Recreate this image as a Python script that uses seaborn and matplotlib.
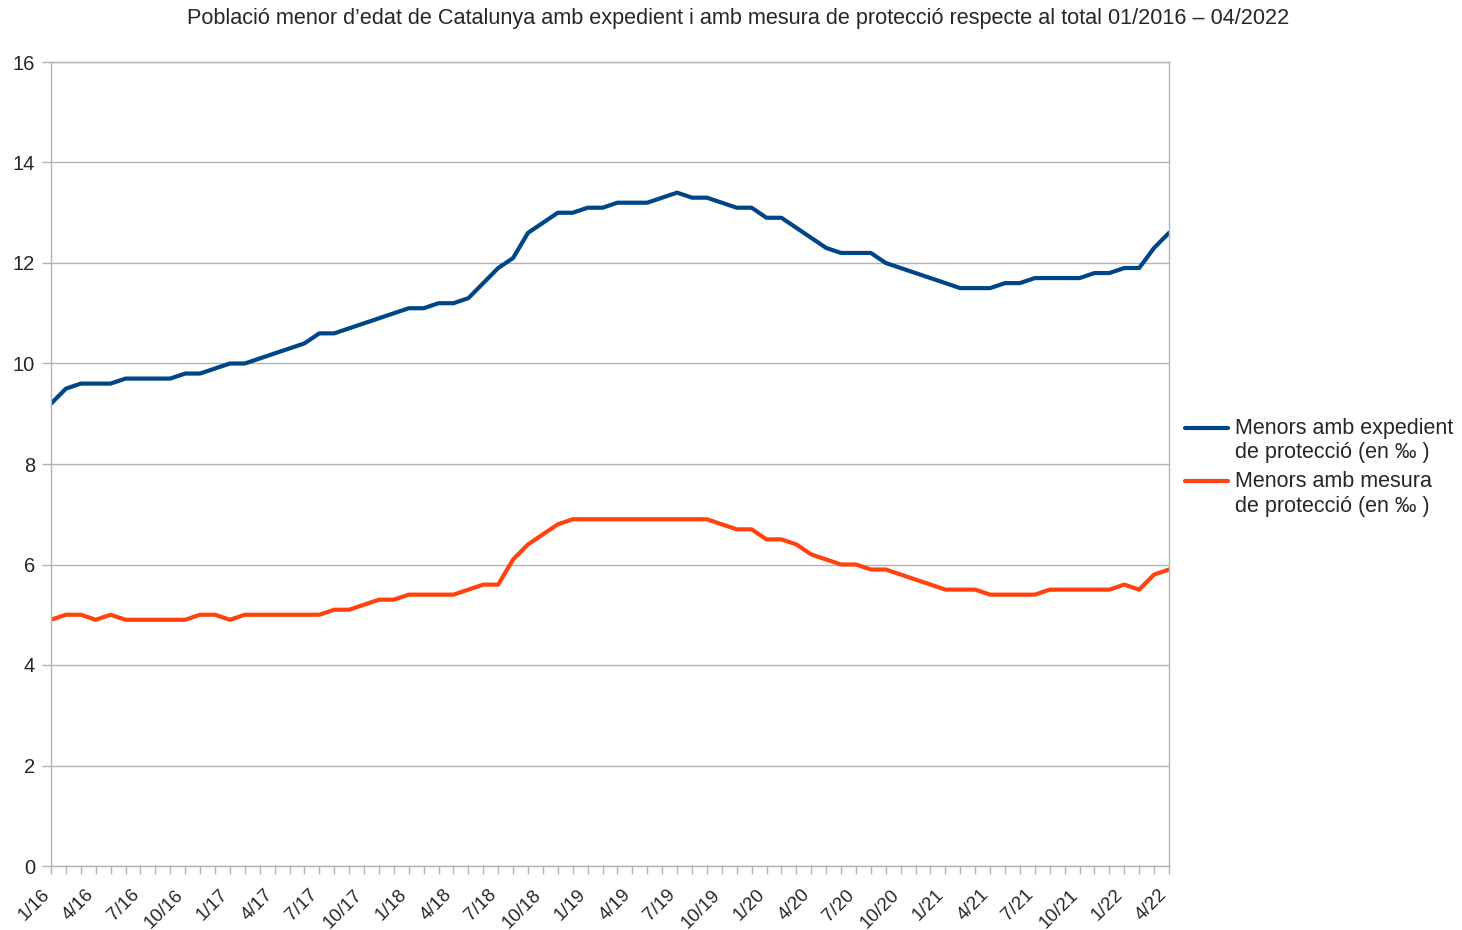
import matplotlib
matplotlib.use("Agg")
import matplotlib.pyplot as plt
import seaborn as sns
import pandas as pd
import numpy as np
from matplotlib.legend_handler import HandlerLine2D
from matplotlib.transforms import ScaledTranslation

# Monthly data Jan 2016 .. Apr 2022 (76 months)
expedient = [9.2, 9.5, 9.6, 9.6, 9.6, 9.7, 9.7, 9.7, 9.7, 9.8, 9.8, 9.9,
             10.0, 10.0, 10.1, 10.2, 10.3, 10.4, 10.6, 10.6, 10.7, 10.8, 10.9, 11.0,
             11.1, 11.1, 11.2, 11.2, 11.3, 11.6, 11.9, 12.1, 12.6, 12.8, 13.0, 13.0,
             13.1, 13.1, 13.2, 13.2, 13.2, 13.3, 13.4, 13.3, 13.3, 13.2, 13.1, 13.1,
             12.9, 12.9, 12.7, 12.5, 12.3, 12.2, 12.2, 12.2, 12.0, 11.9, 11.8, 11.7,
             11.6, 11.5, 11.5, 11.5, 11.6, 11.6, 11.7, 11.7, 11.7, 11.7, 11.8, 11.8,
             11.9, 11.9, 12.3, 12.6]
mesura = [4.9, 5.0, 5.0, 4.9, 5.0, 4.9, 4.9, 4.9, 4.9, 4.9, 5.0, 5.0,
          4.9, 5.0, 5.0, 5.0, 5.0, 5.0, 5.0, 5.1, 5.1, 5.2, 5.3, 5.3,
          5.4, 5.4, 5.4, 5.4, 5.5, 5.6, 5.6, 6.1, 6.4, 6.6, 6.8, 6.9,
          6.9, 6.9, 6.9, 6.9, 6.9, 6.9, 6.9, 6.9, 6.9, 6.8, 6.7, 6.7,
          6.5, 6.5, 6.4, 6.2, 6.1, 6.0, 6.0, 5.9, 5.9, 5.8, 5.7, 5.6,
          5.5, 5.5, 5.5, 5.4, 5.4, 5.4, 5.4, 5.5, 5.5, 5.5, 5.5, 5.5,
          5.6, 5.5, 5.8, 5.9]
tick_labels = ["1/16", "4/16", "7/16", "10/16", "1/17", "4/17", "7/17", "10/17",
               "1/18", "4/18", "7/18", "10/18", "1/19", "4/19", "7/19", "10/19",
               "1/20", "4/20", "7/20", "10/20", "1/21", "4/21", "7/21", "10/21",
               "1/22", "4/22"]
series_names = ["Menors amb expedient\nde protecció (en ‰ )",
                "Menors amb mesura\nde protecció (en ‰ )"]
colors = ["#004586", "#ff420e"]
title = "Població menor d’edat de Catalunya amb expedient i amb mesura de protecció respecte al total 01/2016 – 04/2022"

sns.set_theme(style="white")
plt.rcParams['font.family'] = ['Liberation Sans', 'DejaVu Sans']

LEG_FS = 15.5


class TopLineHandler(HandlerLine2D):
    """Place the legend line next to the first line of a two-line label."""
    def create_artists(self, legend, orig_handle, xdescent, ydescent,
                       width, height, fontsize, trans):
        artists = super().create_artists(legend, orig_handle, xdescent, ydescent,
                                          width, height, fontsize, trans)
        for a in artists:
            yd = np.asarray(a.get_ydata(), dtype=float)
            a.set_ydata(yd + 0.62 * fontsize)
        return artists


n = len(expedient)
df = pd.DataFrame({
    "month": list(range(n)) * 2,
    "value": expedient + mesura,
    "series": [series_names[0]] * n + [series_names[1]] * n,
})

fig = plt.figure(figsize=(14.62, 9.30), dpi=100)
ax = fig.add_axes([51/1462, 1 - 866/930, (1169 - 51)/1462, (866 - 62)/930])

sns.lineplot(data=df, x="month", y="value", hue="series", palette=colors,
             linewidth=3.0, ax=ax, legend=True)

ax.set_xlim(0, n - 1)
ax.set_ylim(0, 16)
ax.set_yticks(np.arange(0, 17, 2))
ax.set_yticklabels([str(v) for v in range(0, 17, 2)], fontsize=14.5)
ax.set_xticks(range(0, n, 3))
ax.set_xticklabels(tick_labels, rotation=45, ha="right", va="center",
                   rotation_mode="anchor", fontsize=13.5)
ax.set_xticks(range(n), minor=True)
ax.tick_params(axis="x", which="both", direction="out", length=6, color="#b3b3b3",
               width=1, bottom=True, pad=13)
ax.tick_params(axis="y", which="major", direction="out", length=6.5, color="#b3b3b3",
               width=1, left=True, pad=5)
for lbl in ax.get_xticklabels():
    lbl.set_transform(lbl.get_transform() + ScaledTranslation(-3/72, 0, fig.dpi_scale_trans))
ax.grid(axis="y", color="#b3b3b3", linewidth=1)
ax.set_axisbelow(True)
for s in ["left", "right", "bottom", "top"]:
    ax.spines[s].set_color("#b3b3b3")
    ax.spines[s].set_linewidth(1)
ax.set_xlabel("")
ax.set_ylabel("")

handles, labels = ax.get_legend_handles_labels()
for h in handles:
    h.set_linewidth(3.0)
ax.legend(handles, labels, loc="center left", bbox_to_anchor=(1 + 16/1118, 0.496),
          frameon=False, fontsize=LEG_FS, handlelength=2.0, handletextpad=0.33,
          labelspacing=0.38, borderaxespad=0, borderpad=0,
          handler_map={h: TopLineHandler() for h in handles})

fig.suptitle(title, x=0.505, y=0.991, va="top", fontsize=15.6)

fig.savefig("out.png", dpi=100)
